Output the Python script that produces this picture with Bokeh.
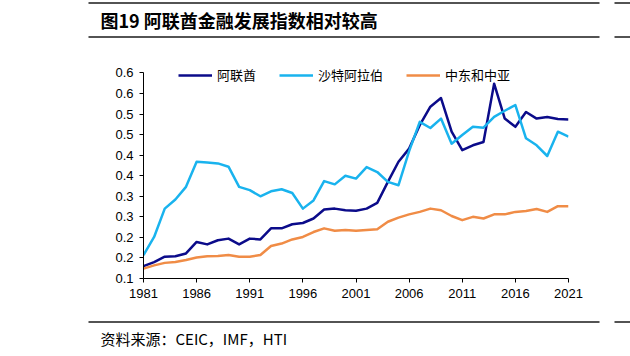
from bokeh.plotting import figure
from bokeh.layouts import column
from bokeh.models import Range1d, FixedTicker, Legend, LegendItem
from bokeh.core.properties import value
from bokeh.embed import file_html
from bokeh.resources import INLINE

# ---- data ----
years = list(range(1981, 2022))

uae = [0.130, 0.140, 0.153, 0.154, 0.161, 0.189, 0.183, 0.193, 0.197, 0.183,
       0.197, 0.195, 0.222, 0.222, 0.232, 0.235, 0.246, 0.268, 0.270, 0.266,
       0.265, 0.270, 0.284, 0.335, 0.384, 0.416, 0.473, 0.518, 0.539, 0.457,
       0.412, 0.424, 0.432, 0.574, 0.489, 0.469, 0.505, 0.489, 0.493, 0.488, 0.487]

saudi = [0.157, 0.201, 0.270, 0.292, 0.323, 0.384, 0.382, 0.380, 0.372, 0.323,
         0.315, 0.300, 0.312, 0.317, 0.308, 0.270, 0.290, 0.337, 0.329, 0.350,
         0.343, 0.371, 0.359, 0.335, 0.327, 0.410, 0.481, 0.466, 0.489, 0.428,
         0.449, 0.469, 0.467, 0.493, 0.508, 0.522, 0.441, 0.424, 0.398, 0.457, 0.445]

mena = [0.124, 0.132, 0.138, 0.140, 0.145, 0.151, 0.154, 0.155, 0.157, 0.153,
        0.153, 0.157, 0.179, 0.185, 0.195, 0.201, 0.213, 0.222, 0.216, 0.218,
        0.216, 0.218, 0.220, 0.238, 0.248, 0.256, 0.262, 0.270, 0.266, 0.252,
        0.242, 0.250, 0.246, 0.256, 0.256, 0.262, 0.264, 0.269, 0.262, 0.276, 0.276]

series_names = ["阿联酋", "沙特阿拉伯", "中东和中亚"]
series_colors = ["#0B0B8A", "#19B3EE", "#F08C46"]

y_ticks = [0.1, 0.15, 0.2, 0.25, 0.3, 0.35, 0.4, 0.45, 0.5, 0.55, 0.6]
y_tick_labels = ["0.1", "0.2", "0.2", "0.3", "0.3", "0.4", "0.4", "0.5", "0.5", "0.6", "0.6"]
x_ticks = [1981, 1986, 1991, 1996, 2001, 2006, 2011, 2016, 2021]

title_text = "图19 阿联酋金融发展指数相对较高"
source_text = "资料来源：CEIC，IMF，HTI"

CJK = "Noto Sans CJK SC"
LAT = "Liberation Sans"
W = 630


def blank(h):
    f = figure(width=W, height=h, x_range=Range1d(0, W), y_range=Range1d(h, 0),
               output_backend="svg", toolbar_location=None, title=None,
               min_border=0, x_axis_location=None, y_axis_location=None)
    f.grid.visible = False
    f.outline_line_color = None
    f.frame_align = False
    return f


# ---- header ----
head = blank(40)
head.segment(x0=[88, 614, 88, 614], y0=[2.5, 2.5, 36.5, 36.5],
             x1=[599, 630, 599, 630], y1=[2.5, 2.5, 36.5, 36.5],
             line_color="#1a1a1a", line_width=1.6)
head.text(x=[100], y=[19.5], text=[title_text], text_font=value(CJK),
          text_font_size="18px", text_font_style="bold",
          text_baseline="middle", text_color="#000000")

# ---- main chart ----
p = figure(width=W, height=278, x_range=Range1d(1981, 2021), y_range=Range1d(0.1, 0.623),
           output_backend="svg", toolbar_location=None, title=None,
           min_border_left=143, min_border_right=62, min_border_top=23, min_border_bottom=40)
p.grid.visible = False
p.outline_line_color = None
p.frame_align = False

renderers = []
for vals, col in zip([uae, saudi, mena], series_colors):
    r = p.line(years, vals, line_color=col, line_width=2.5, line_join="round")
    renderers.append(r)

p.yaxis.ticker = FixedTicker(ticks=y_ticks)
p.yaxis.major_label_overrides = {t: s for t, s in zip(y_ticks, y_tick_labels)}
p.yaxis.bounds = (0.1, 0.6)
p.xaxis.ticker = FixedTicker(ticks=x_ticks)
for ax in (p.xaxis, p.yaxis):
    ax.axis_line_color = "#000000"
    ax.axis_line_width = 1
    ax.major_tick_line_color = "#000000"
    ax.major_tick_in = 0
    ax.major_tick_out = 4
    ax.minor_tick_line_color = None
    ax.major_label_text_font = LAT
    ax.major_label_text_font_size = "13px"
    ax.major_label_text_color = "#000000"
p.yaxis.major_label_standoff = 6
p.xaxis.major_label_standoff = 6

legend = Legend(items=[LegendItem(label=n, renderers=[r]) for n, r in zip(series_names, renderers)],
                orientation="horizontal", location=(35, 194))
legend.border_line_color = None
legend.background_fill_alpha = 0
legend.padding = 0
legend.margin = 0
legend.spacing = 23
legend.glyph_width = 34
legend.glyph_height = 16
legend.label_height = 16
legend.label_standoff = 5
legend.label_text_font = CJK
legend.label_text_font_size = "13px"
legend.label_text_color = "#000000"
p.add_layout(legend)

# ---- footer ----
foot = blank(38)
foot.segment(x0=[88, 614], y0=[3.5, 3.5], x1=[599, 630], y1=[3.5, 3.5],
             line_color="#1a1a1a", line_width=1.6)
foot.text(x=[100], y=[19.5], text=[source_text], text_font=value(CJK),
          text_font_size="15px", text_baseline="middle", text_color="#000000")

layout = column(head, p, foot, spacing=0)
open("out.html", "w").write(file_html(layout, INLINE))
